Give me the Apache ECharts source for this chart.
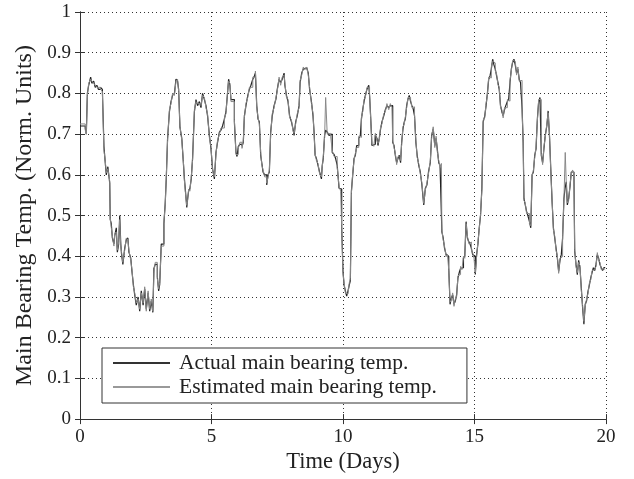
<!DOCTYPE html>
<html>
<head>
<meta charset="utf-8">
<script src="https://cdn.jsdelivr.net/npm/echarts@6/dist/echarts.min.js"></script>
<style>
  html, body { margin: 0; padding: 0; background: #fff; }
  #main { width: 634px; height: 479px; }
</style>
</head>
<body>
<div id="main"></div>
<script>
// time of each reading (days)
const days = [
  0, 0.2, 0.24, 0.28, 0.33, 0.405, 0.45, 0.52, 0.58, 0.64,
  0.7, 0.78, 0.85, 0.91, 0.96, 1.0, 1.06, 1.13, 1.15, 1.19,
  1.23, 1.29, 1.32, 1.38, 1.42, 1.47, 1.51, 1.55, 1.58, 1.63,
  1.7, 1.76, 1.82, 1.86, 1.93, 1.98, 2.03, 2.08, 2.14, 2.21,
  2.27, 2.33, 2.4, 2.46, 2.52, 2.59, 2.65, 2.71, 2.77, 2.81,
  2.86, 2.94, 2.99, 3.03, 3.09, 3.19, 3.24, 3.28, 3.33, 3.4,
  3.46, 3.52, 3.59, 3.65, 3.71, 3.75, 3.8, 3.87, 3.93, 3.97,
  4.01, 4.06, 4.09, 4.13, 4.18, 4.23, 4.28, 4.35, 4.41, 4.47,
  4.54, 4.6, 4.66, 4.73, 4.79, 4.85, 4.92, 4.98, 5.04, 5.11,
  5.17, 5.23, 5.3, 5.36, 5.42, 5.49, 5.55, 5.61, 5.65, 5.7,
  5.74, 5.87, 5.93, 5.97, 6.02, 6.08, 6.16, 6.21, 6.25, 6.31,
  6.38, 6.44, 6.5, 6.57, 6.63, 6.67, 6.72, 6.77, 6.82, 6.87,
  6.91, 6.96, 7.02, 7.1, 7.15, 7.2, 7.25, 7.31, 7.38, 7.45,
  7.5, 7.57, 7.63, 7.69, 7.76, 7.79, 7.85, 7.91, 7.97, 8.04,
  8.1, 8.14, 8.2, 8.26, 8.33, 8.37, 8.43, 8.49, 8.55, 8.62,
  8.68, 8.73, 8.8, 8.86, 8.9, 8.94, 8.99, 9.05, 9.11, 9.18,
  9.21, 9.25, 9.3, 9.34, 9.4, 9.47, 9.53, 9.59, 9.66, 9.72,
  9.78, 9.85, 9.91, 9.95, 10.0, 10.04, 10.09, 10.14, 10.19, 10.24,
  10.28, 10.32, 10.37, 10.42, 10.47, 10.52, 10.6, 10.66, 10.7, 10.75,
  10.8, 10.85, 10.91, 10.98, 11.01, 11.05, 11.1, 11.17, 11.23, 11.29,
  11.33, 11.38, 11.43, 11.48, 11.55, 11.61, 11.67, 11.74, 11.8, 11.86,
  11.89, 11.94, 11.99, 12.04, 12.09, 12.14, 12.19, 12.23, 12.28, 12.33,
  12.37, 12.42, 12.47, 12.52, 12.57, 12.62, 12.67, 12.72, 12.77, 12.82,
  12.88, 12.94, 13.0, 13.07, 13.13, 13.19, 13.25, 13.32, 13.37, 13.43,
  13.49, 13.54, 13.59, 13.64, 13.69, 13.74, 13.76, 13.81, 13.86, 13.92,
  13.97, 14.02, 14.07, 14.12, 14.17, 14.22, 14.27, 14.32, 14.37, 14.42,
  14.47, 14.52, 14.58, 14.63, 14.68, 14.73, 14.78, 14.83, 14.88, 14.93,
  14.98, 15.03, 15.08, 15.13, 15.18, 15.23, 15.28, 15.33, 15.39, 15.44,
  15.49, 15.54, 15.59, 15.64, 15.69, 15.74, 15.79, 15.84, 15.89, 15.94,
  15.99, 16.04, 16.09, 16.14, 16.19, 16.25, 16.3, 16.35, 16.4, 16.45,
  16.5, 16.55, 16.6, 16.65, 16.7, 16.75, 16.81, 16.85, 16.88, 16.93,
  16.98, 17.03, 17.09, 17.14, 17.19, 17.24, 17.29, 17.34, 17.39, 17.44,
  17.49, 17.54, 17.59, 17.64, 17.69, 17.75, 17.8, 17.85, 17.9, 17.95,
  18.0, 18.05, 18.1, 18.15, 18.2, 18.25, 18.3, 18.35, 18.4, 18.45,
  18.49, 18.53, 18.58, 18.63, 18.68, 18.73, 18.78, 18.81, 18.86, 18.91,
  18.96, 19.01, 19.06, 19.11, 19.16, 19.21, 19.26, 19.32, 19.37, 19.42,
  19.47, 19.52, 19.57, 19.62, 19.67, 19.72, 19.77, 19.82, 19.87, 19.92,
  19.97
]

// actual main bearing temperature (normalised)
const actual = [
  0.72, 0.715, 0.70, 0.80, 0.82, 0.84, 0.825, 0.83, 0.815, 0.82,
  0.81, 0.815, 0.81, 0.67, 0.63, 0.60, 0.62, 0.58, 0.49, 0.48,
  0.445, 0.43, 0.45, 0.47, 0.41, 0.43, 0.50, 0.43, 0.405, 0.38,
  0.42, 0.44, 0.445, 0.41, 0.395, 0.36, 0.33, 0.305, 0.28, 0.30,
  0.265, 0.315, 0.28, 0.32, 0.27, 0.31, 0.265, 0.29, 0.262, 0.37,
  0.38, 0.35, 0.315, 0.33, 0.43, 0.48, 0.53, 0.59, 0.69, 0.755,
  0.78, 0.795, 0.80, 0.835, 0.83, 0.81, 0.717, 0.69, 0.63, 0.59,
  0.56, 0.52, 0.54, 0.56, 0.567, 0.59, 0.64, 0.755, 0.785, 0.77,
  0.78, 0.765, 0.80, 0.785, 0.77, 0.745, 0.697, 0.664, 0.615, 0.59,
  0.655, 0.68, 0.705, 0.71, 0.72, 0.737, 0.755, 0.80, 0.835, 0.82,
  0.785, 0.73, 0.655, 0.645, 0.67, 0.675, 0.67, 0.68, 0.745, 0.77,
  0.795, 0.81, 0.82, 0.835, 0.843, 0.85, 0.77, 0.737, 0.73, 0.648,
  0.63, 0.607, 0.60, 0.575, 0.60, 0.607, 0.705, 0.745, 0.77, 0.786,
  0.81, 0.835, 0.827, 0.835, 0.85, 0.82, 0.795, 0.78, 0.745, 0.73,
  0.713, 0.697, 0.73, 0.745, 0.77, 0.827, 0.85, 0.86, 0.863, 0.86,
  0.85, 0.81, 0.78, 0.745, 0.705, 0.648, 0.64, 0.623, 0.607, 0.59,
  0.623, 0.64, 0.697, 0.71, 0.705, 0.697, 0.70, 0.655, 0.65, 0.64,
  0.623, 0.567, 0.565, 0.47, 0.363, 0.33, 0.315, 0.302, 0.315, 0.33,
  0.34, 0.56, 0.60, 0.64, 0.648, 0.672, 0.69, 0.697, 0.737, 0.76,
  0.78, 0.795, 0.81, 0.82, 0.795, 0.745, 0.672, 0.675, 0.697, 0.69,
  0.672, 0.69, 0.713, 0.73, 0.745, 0.76, 0.77, 0.765, 0.77, 0.77,
  0.68, 0.672, 0.648, 0.63, 0.64, 0.648, 0.63, 0.68, 0.713, 0.73,
  0.737, 0.77, 0.786, 0.795, 0.78, 0.77, 0.762, 0.745, 0.68, 0.648,
  0.623, 0.607, 0.575, 0.526, 0.567, 0.575, 0.607, 0.63, 0.697, 0.713,
  0.672, 0.69, 0.66, 0.63, 0.623, 0.623, 0.46, 0.445, 0.42, 0.404,
  0.40, 0.372, 0.282, 0.298, 0.305, 0.282, 0.29, 0.305, 0.347, 0.36,
  0.37, 0.372, 0.395, 0.40, 0.485, 0.445, 0.436, 0.43, 0.42, 0.404,
  0.40, 0.355, 0.404, 0.43, 0.47, 0.50, 0.567, 0.73, 0.745, 0.77,
  0.80, 0.835, 0.843, 0.86, 0.884, 0.87, 0.86, 0.843, 0.827, 0.81,
  0.77, 0.755, 0.745, 0.76, 0.77, 0.78, 0.786, 0.827, 0.86, 0.876,
  0.884, 0.87, 0.85, 0.86, 0.835, 0.827, 0.762, 0.68, 0.542, 0.526,
  0.51, 0.50, 0.485, 0.47, 0.60, 0.607, 0.648, 0.664, 0.737, 0.78,
  0.79, 0.648, 0.63, 0.664, 0.697, 0.72, 0.757, 0.697, 0.615, 0.534,
  0.47, 0.445, 0.42, 0.396, 0.363, 0.39, 0.404, 0.445, 0.542, 0.57,
  0.583, 0.526, 0.542, 0.57, 0.607, 0.607, 0.607, 0.412, 0.38, 0.355,
  0.39, 0.372, 0.323, 0.274, 0.233, 0.282, 0.29, 0.315, 0.33, 0.347,
  0.36, 0.372, 0.365, 0.38, 0.404, 0.395, 0.38, 0.372, 0.365, 0.372,
  0.372
]

// estimated main bearing temperature (normalised)
const estimated = [
  0.725, 0.71, 0.70, 0.795, 0.825, 0.835, 0.83, 0.825, 0.82, 0.815,
  0.815, 0.81, 0.805, 0.66, 0.635, 0.605, 0.615, 0.585, 0.495, 0.47,
  0.45, 0.425, 0.455, 0.46, 0.415, 0.435, 0.49, 0.425, 0.41, 0.385,
  0.415, 0.445, 0.44, 0.415, 0.39, 0.365, 0.325, 0.31, 0.285, 0.295,
  0.27, 0.31, 0.285, 0.325, 0.265, 0.315, 0.27, 0.295, 0.265, 0.36,
  0.385, 0.345, 0.32, 0.335, 0.425, 0.485, 0.525, 0.595, 0.685, 0.76,
  0.775, 0.80, 0.795, 0.83, 0.835, 0.805, 0.72, 0.685, 0.635, 0.585,
  0.555, 0.525, 0.535, 0.565, 0.56, 0.595, 0.635, 0.76, 0.78, 0.775,
  0.775, 0.77, 0.795, 0.79, 0.765, 0.75, 0.69, 0.67, 0.61, 0.595,
  0.65, 0.685, 0.70, 0.715, 0.715, 0.74, 0.75, 0.805, 0.83, 0.825,
  0.78, 0.735, 0.65, 0.65, 0.665, 0.68, 0.665, 0.685, 0.74, 0.775,
  0.79, 0.815, 0.815, 0.84, 0.838, 0.855, 0.765, 0.74, 0.725, 0.655,
  0.625, 0.612, 0.595, 0.58, 0.595, 0.612, 0.70, 0.75, 0.765, 0.79,
  0.805, 0.84, 0.82, 0.84, 0.845, 0.825, 0.79, 0.785, 0.74, 0.735,
  0.708, 0.702, 0.725, 0.75, 0.765, 0.832, 0.845, 0.865, 0.858, 0.865,
  0.845, 0.815, 0.775, 0.75, 0.70, 0.653, 0.635, 0.628, 0.602, 0.595,
  0.618, 0.645, 0.692, 0.79, 0.70, 0.702, 0.695, 0.66, 0.645, 0.645,
  0.618, 0.572, 0.56, 0.475, 0.358, 0.335, 0.31, 0.307, 0.31, 0.335,
  0.345, 0.555, 0.605, 0.635, 0.653, 0.667, 0.695, 0.692, 0.742, 0.755,
  0.785, 0.79, 0.815, 0.815, 0.80, 0.74, 0.677, 0.67, 0.702, 0.685,
  0.677, 0.685, 0.718, 0.725, 0.75, 0.755, 0.775, 0.76, 0.775, 0.765,
  0.685, 0.667, 0.653, 0.625, 0.645, 0.643, 0.635, 0.675, 0.718, 0.725,
  0.742, 0.765, 0.79, 0.79, 0.785, 0.765, 0.767, 0.74, 0.685, 0.643,
  0.628, 0.602, 0.58, 0.53, 0.562, 0.58, 0.602, 0.635, 0.692, 0.718,
  0.667, 0.695, 0.655, 0.635, 0.618, 0.628, 0.465, 0.44, 0.425, 0.399,
  0.405, 0.367, 0.287, 0.293, 0.31, 0.277, 0.295, 0.30, 0.352, 0.355,
  0.375, 0.367, 0.40, 0.395, 0.48, 0.45, 0.431, 0.435, 0.415, 0.409,
  0.395, 0.36, 0.399, 0.435, 0.465, 0.505, 0.562, 0.735, 0.74, 0.775,
  0.795, 0.84, 0.838, 0.865, 0.879, 0.875, 0.855, 0.848, 0.822, 0.815,
  0.765, 0.76, 0.74, 0.765, 0.765, 0.785, 0.781, 0.832, 0.855, 0.881,
  0.879, 0.875, 0.845, 0.865, 0.83, 0.832, 0.757, 0.685, 0.537, 0.531,
  0.505, 0.505, 0.48, 0.475, 0.595, 0.612, 0.643, 0.669, 0.732, 0.785,
  0.785, 0.653, 0.625, 0.669, 0.692, 0.725, 0.752, 0.702, 0.61, 0.539,
  0.465, 0.45, 0.415, 0.401, 0.358, 0.395, 0.399, 0.45, 0.537, 0.655,
  0.578, 0.531, 0.537, 0.575, 0.602, 0.612, 0.602, 0.417, 0.375, 0.36,
  0.385, 0.377, 0.318, 0.279, 0.24, 0.277, 0.295, 0.31, 0.335, 0.342,
  0.365, 0.367, 0.37, 0.375, 0.409, 0.39, 0.385, 0.367, 0.37, 0.367,
  0.367
]

const seriesNames = ['Actual main bearing temp.', 'Estimated main bearing temp.']
const xLabel = 'Time (Days)'
const yLabel = 'Main Bearing Temp. (Norm. Units)'

const font = 'Liberation Serif'
const ink = '#222'

const dotted = { show: true, lineStyle: { color: '#333', type: [1, 3], width: 1 } }

const chart = echarts.init(document.getElementById('main'))

chart.setOption({
  animation: false,
  textStyle: { fontFamily: font, color: ink },
  grid: { left: 80, right: 28, top: 12, bottom: 57, containLabel: false },
  legend: {
    orient: 'vertical',
    left: 102,
    top: 348,
    data: [
      { name: seriesNames[0], icon: 'rect', itemStyle: { color: '#333' } },
      { name: seriesNames[1], icon: 'rect', itemStyle: { color: '#999' } }
    ],
    itemWidth: 57,
    itemHeight: 2,
    itemGap: 2,
    padding: [4, 30, 5, 11],
    borderColor: '#333',
    borderWidth: 1,
    backgroundColor: '#fff',
    textStyle: { fontFamily: font, fontSize: 21.5, color: ink, padding: [0, 0, 0, 4] }
  },
  xAxis: [
    {
      type: 'value', min: 0, max: 20, interval: 5,
      name: xLabel, nameLocation: 'middle', nameGap: 29,
      nameTextStyle: { fontFamily: font, fontSize: 22.5, color: ink },
      axisLine: { lineStyle: { color: '#333' } },
      axisTick: { inside: true, length: 5, lineStyle: { color: '#333' } },
      axisLabel: { fontFamily: font, fontSize: 19, color: ink, margin: 8 },
      splitLine: dotted
    },
    {
      type: 'value', min: 0, max: 20, interval: 5, position: 'top',
      axisLine: { show: true, lineStyle: { color: '#333' } },
      axisTick: { show: true, inside: true, length: 5, lineStyle: { color: '#333' } },
      axisLabel: { show: false },
      splitLine: { show: false }
    }
  ],
  yAxis: [
    {
      type: 'value', min: 0, max: 1, interval: 0.1,
      name: yLabel, nameLocation: 'middle', nameGap: 35, nameRotate: 90,
      nameTextStyle: { fontFamily: font, fontSize: 24, color: ink },
      axisLine: { show: true, lineStyle: { color: '#333' } },
      axisTick: { show: true, inside: true, length: 5, lineStyle: { color: '#333' } },
      axisLabel: {
        fontFamily: font, fontSize: 19, color: ink, margin: 9,
        formatter: v => String(+v.toFixed(1))
      },
      splitLine: dotted
    },
    {
      type: 'value', min: 0, max: 1, interval: 0.1, position: 'right',
      axisLine: { show: true, lineStyle: { color: '#333' } },
      axisTick: { show: true, inside: true, length: 5, lineStyle: { color: '#333' } },
      axisLabel: { show: false },
      splitLine: { show: false }
    }
  ],
  series: [
    {
      name: seriesNames[0],
      type: 'line',
      step: 'end',
      symbol: 'none',
      data: days.map((d, i) => [d, actual[i]]),
      lineStyle: { color: '#222', width: 1.2 },
      itemStyle: { color: '#222' }
    },
    {
      name: seriesNames[1],
      type: 'line',
      step: 'end',
      symbol: 'none',
      data: days.map((d, i) => [d, estimated[i]]),
      lineStyle: { color: '#888', width: 1 },
      itemStyle: { color: '#888' }
    }
  ]
})
</script>
</body>
</html>
